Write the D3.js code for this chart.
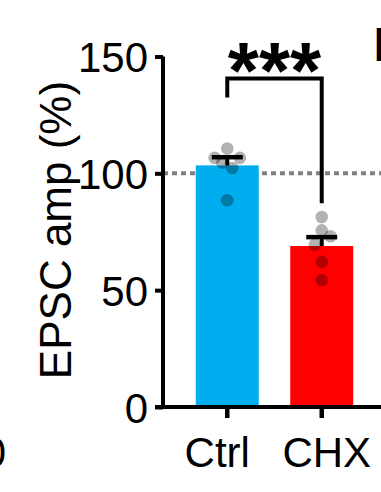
<!DOCTYPE html>
<html>
<head>
<meta charset="utf-8">
<script src="https://cdn.jsdelivr.net/npm/d3@7"></script>
<style>
  body { margin: 0; background: #fff; }
  svg { display: block; }
  text { font-family: "Liberation Sans", Arial, sans-serif; }
</style>
</head>
<body>
<div id="chart"></div>
<script>
// data
var groups = ["Ctrl", "CHX"];
var means = [103.4, 68.9];
var sems = [3.5, 3.8];
var barColors = ["#00aeef", "#ff0000"];
var ctrlPoints = [106.6, 110.6, 106.6, 104.6, 102.3, 88.5];
var ctrlOffsets = [-1, 0, 1, -0.4, 0.4, 0];
var chxPoints = [81.3, 75.6, 73.1, 69.5, 62.1, 54.3];
var chxOffsets = [0, 0, 0.7, -0.55, 0, 0];
var yTicks = [0, 50, 100, 150];
var refValue = 100;
var sigLabel = "***";
var sigBracket = { top: 140.6, leftEnd: 132.5, rightEnd: 87.2 };

var width = 381, height = 492;

var svg = d3.select("#chart")
  .append("svg")
  .attr("width", width)
  .attr("height", height);

var y = d3.scaleLinear().domain([0, 150]).range([407, 56.5]);

var x = d3.scaleBand()
  .domain(groups)
  .range([163, 386])
  .paddingInner(1 / 3)
  .paddingOuter(0.347);

var cx = function (g) { return x(g) + x.bandwidth() / 2; };

// dotted reference line at 100%
svg.append("line")
  .attr("x1", 163)
  .attr("x2", width)
  .attr("y1", y(refValue))
  .attr("y2", y(refValue))
  .attr("stroke", "#808080")
  .attr("stroke-width", 4)
  .attr("stroke-dasharray", "5,4");

// bars
svg.selectAll(".bar")
  .data(groups)
  .enter()
  .append("rect")
  .attr("class", "bar")
  .attr("x", function (d) { return x(d); })
  .attr("width", x.bandwidth())
  .attr("y", function (d, i) { return y(means[i]); })
  .attr("height", function (d, i) { return y(0) - y(means[i]); })
  .attr("fill", function (d, i) { return barColors[i]; });

// individual points
var pts = [];
ctrlPoints.forEach(function (v, i) { pts.push({ g: "Ctrl", v: v, o: ctrlOffsets[i] }); });
chxPoints.forEach(function (v, i) { pts.push({ g: "CHX", v: v, o: chxOffsets[i] }); });
var r = 6.3;

svg.selectAll(".pt")
  .data(pts)
  .enter()
  .append("circle")
  .attr("class", "pt")
  .attr("cx", function (d) { return cx(d.g) + d.o * 2 * r; })
  .attr("cy", function (d) { return y(d.v); })
  .attr("r", r)
  .attr("fill", "#000")
  .attr("fill-opacity", 0.3);

// error bars (upper only)
groups.forEach(function (g, i) {
  svg.append("line")
    .attr("x1", cx(g)).attr("x2", cx(g))
    .attr("y1", y(means[i])).attr("y2", y(means[i] + sems[i]))
    .attr("stroke", "#000").attr("stroke-width", 4);
  svg.append("line")
    .attr("x1", cx(g) - 15.5).attr("x2", cx(g) + 15.5)
    .attr("y1", y(means[i] + sems[i])).attr("y2", y(means[i] + sems[i]))
    .attr("stroke", "#000").attr("stroke-width", 4.5);
});

// significance bracket
svg.append("path")
  .attr("d", "M" + cx("Ctrl") + "," + y(sigBracket.leftEnd) +
    "V" + y(sigBracket.top) +
    "H" + cx("CHX") +
    "V" + y(sigBracket.rightEnd))
  .attr("fill", "none")
  .attr("stroke", "#000")
  .attr("stroke-width", 4);

svg.append("text")
  .attr("x", (cx("Ctrl") + cx("CHX")) / 2)
  .attr("y", 98)
  .attr("text-anchor", "middle")
  .style("font-size", "80px")
  .style("font-weight", "bold")
  .text(sigLabel);

// y axis
var yAxis = svg.append("g")
  .attr("transform", "translate(163,0)")
  .call(d3.axisLeft(y).tickValues(yTicks).tickSize(8).tickSizeOuter(0).tickPadding(7));
yAxis.select(".domain").attr("stroke-width", 4).attr("d", "M0," + y(150) + "V" + y(0));
yAxis.selectAll(".tick line").attr("stroke-width", 4);
yAxis.selectAll(".tick text")
  .style("font-size", "42px")
  .attr("dy", "0.36em")
  .attr("fill", "#000");

// x axis
var labelShift = [-10, 5];
var xAxis = svg.append("g")
  .attr("transform", "translate(0," + y(0) + ")")
  .call(d3.axisBottom(x).tickSize(11).tickSizeOuter(0).tickPadding(19));
xAxis.select(".domain").attr("stroke-width", 4).attr("d", "M155,0H" + width);
xAxis.selectAll(".tick line").attr("stroke-width", 4.5);
xAxis.selectAll(".tick text")
  .style("font-size", "42px")
  .attr("dx", function (d, i) { return labelShift[i]; })
  .attr("fill", "#000");

// y axis title
svg.append("text")
  .attr("transform", "translate(71,230) rotate(-90)")
  .attr("text-anchor", "middle")
  .style("font-size", "44px")
  .text("EPSC amp (%)");

// neighbouring panel fragments
svg.append("text")
  .attr("x", 373.5)
  .attr("y", 61)
  .style("font-size", "48px")
  .style("font-weight", "bold")
  .text("E");

svg.append("text")
  .attr("x", 6)
  .attr("y", 467)
  .attr("text-anchor", "end")
  .style("font-size", "42px")
  .text("0");
</script>
</body>
</html>
